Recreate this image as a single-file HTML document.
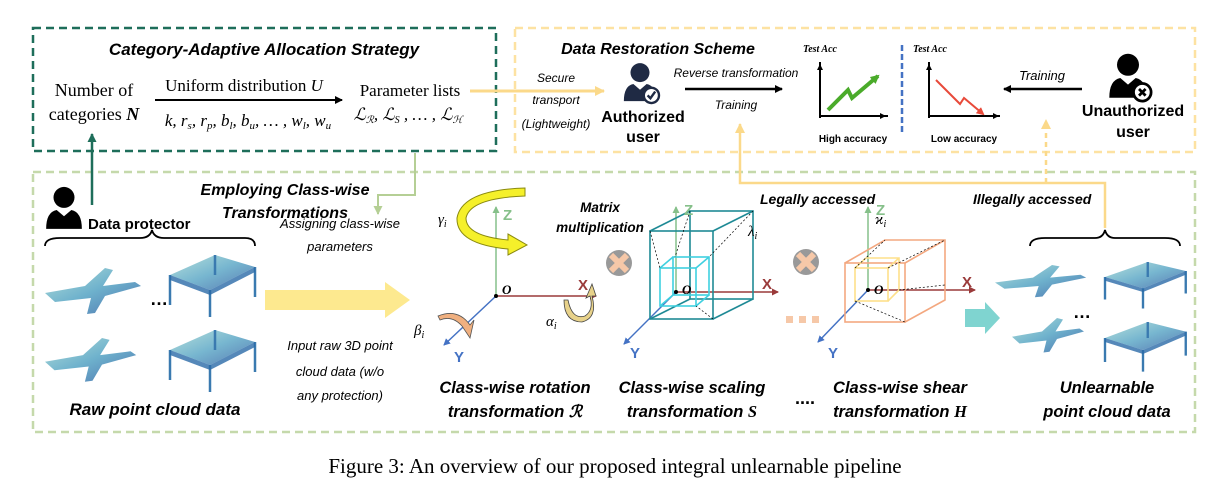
<!DOCTYPE html>
<html><head><meta charset="utf-8"><style>
html,body{margin:0;padding:0;background:#fff;}
svg{display:block;}
text{font-family:"Liberation Sans",sans-serif;}
.bi{font-weight:bold;font-style:italic;}
.it{font-style:italic;}
.serif{font-family:"Liberation Serif",serif;}
</style></head><body>
<svg width="1230" height="492" viewBox="0 0 1230 492" xmlns="http://www.w3.org/2000/svg">
<defs>
<marker id="ak" markerWidth="8" markerHeight="8" refX="7" refY="4" orient="auto" markerUnits="userSpaceOnUse"><path d="M0,0 L8,4 L0,8 z" fill="#000"/></marker>
<marker id="ay" markerWidth="10" markerHeight="10" refX="9" refY="5" orient="auto" markerUnits="userSpaceOnUse"><path d="M0,0 L10,5 L0,10 z" fill="#fbd98a"/></marker>
<marker id="ag" markerWidth="9" markerHeight="9" refX="8" refY="4.5" orient="auto" markerUnits="userSpaceOnUse"><path d="M0,0 L9,4.5 L0,9 z" fill="#1e6e5a"/></marker>
<marker id="alg" markerWidth="9" markerHeight="9" refX="8" refY="4.5" orient="auto" markerUnits="userSpaceOnUse"><path d="M0,0 L9,4.5 L0,9 z" fill="#b5cf95"/></marker>
<marker id="az" markerWidth="7" markerHeight="7" refX="6" refY="3.5" orient="auto" markerUnits="userSpaceOnUse"><path d="M0,0 L7,3.5 L0,7 z" fill="#86c08a"/></marker>
<marker id="ax" markerWidth="7" markerHeight="7" refX="6" refY="3.5" orient="auto" markerUnits="userSpaceOnUse"><path d="M0,0 L7,3.5 L0,7 z" fill="#9a3a3a"/></marker>
<marker id="ayb" markerWidth="7" markerHeight="7" refX="6" refY="3.5" orient="auto" markerUnits="userSpaceOnUse"><path d="M0,0 L7,3.5 L0,7 z" fill="#4472c4"/></marker>
<marker id="agr" markerWidth="9" markerHeight="9" refX="7" refY="4.5" orient="auto" markerUnits="userSpaceOnUse"><path d="M0,0 L9,4.5 L0,9 z" fill="#4aab2a"/></marker>
<marker id="ard" markerWidth="8" markerHeight="8" refX="6" refY="4" orient="auto" markerUnits="userSpaceOnUse"><path d="M0,0 L8,4 L0,8 z" fill="#e84a3a"/></marker>
<linearGradient id="pc" x1="0" y1="0" x2="1" y2="1"><stop offset="0" stop-color="#9fd6cf"/><stop offset="0.5" stop-color="#4a9ec0"/><stop offset="1" stop-color="#1f4f9a"/></linearGradient>
<g id="plane"><path d="M0,25 L40,18 L60,0 L68,2 L58,18 L90,14 L96,18 L60,28 L50,45 L42,46 L46,30 L10,34 Z" fill="url(#pc)" opacity="0.8"/></g>
<g id="table"><path d="M0,20 L45,0 L85,12 L40,35 Z" fill="url(#pc)" opacity="0.75"/><path d="M0,20 L0,50 M40,35 L40,62 M85,12 L85,42 M45,0 L45,20" stroke="#3a7ab0" stroke-width="2.5"/><path d="M0,20 L40,35 L85,12 L85,17 L40,40 L0,25Z" fill="#2a6aa8" opacity="0.8"/></g>
<g id="user"><circle cx="0" cy="-12" r="10" fill="#000"/><path d="M-17,18 Q-17,2 -7,0 L0,6 L7,0 Q17,2 17,18 Z" fill="#000"/></g>
</defs>

<rect x="33" y="28" width="463" height="123" fill="none" stroke="#1e6e5a" stroke-width="2.5" stroke-dasharray="8,5"/>
<rect x="515" y="28" width="680" height="124" fill="none" stroke="#fde2a2" stroke-width="2.5" stroke-dasharray="8,5"/>
<rect x="33" y="172" width="1162" height="260" fill="none" stroke="#c5d9ab" stroke-width="2.5" stroke-dasharray="8,5"/>

<text x="264" y="55" text-anchor="middle" class="bi" font-size="17">Category-Adaptive Allocation Strategy</text>
<text x="94" y="96" text-anchor="middle" class="serif" font-size="18">Number of</text>
<text x="94" y="120" text-anchor="middle" class="serif" font-size="18">categories <tspan font-style="italic" font-weight="bold">N</tspan></text>
<line x1="155" y1="100" x2="342" y2="100" stroke="#000" stroke-width="2" marker-end="url(#ak)"/>
<text x="244" y="91" text-anchor="middle" class="serif" font-size="17">Uniform distribution <tspan font-style="italic">U</tspan></text>
<text x="248" y="126" text-anchor="middle" class="serif it" font-size="17">k, r<tspan font-size="11" dy="3">s</tspan><tspan dy="-3">, r</tspan><tspan font-size="11" dy="3">p</tspan><tspan dy="-3">, b</tspan><tspan font-size="11" dy="3">l</tspan><tspan dy="-3">, b</tspan><tspan font-size="11" dy="3">u</tspan><tspan dy="-3">, … , w</tspan><tspan font-size="11" dy="3">l</tspan><tspan dy="-3">, w</tspan><tspan font-size="11" dy="3">u</tspan></text>
<text x="410" y="96" text-anchor="middle" class="serif" font-size="17">Parameter lists</text>
<text x="408" y="120" text-anchor="middle" class="serif it" font-size="17">ℒ<tspan font-size="10" dy="3">ℛ</tspan><tspan dy="-3">,  ℒ</tspan><tspan font-size="10" dy="3">S</tspan><tspan dy="-3"> , … , ℒ</tspan><tspan font-size="10" dy="3">ℋ</tspan></text>
<line x1="470" y1="91" x2="604" y2="91" stroke="#fbd98a" stroke-width="3" marker-end="url(#ay)"/>

<text x="658" y="54" text-anchor="middle" class="bi" font-size="16">Data Restoration Scheme</text>
<text x="556" y="82" text-anchor="middle" class="it" font-size="12">Secure</text>
<text x="556" y="104" text-anchor="middle" class="it" font-size="12">transport</text>
<text x="556" y="128" text-anchor="middle" class="it" font-size="12">(Lightweight)</text>
<g transform="translate(640,84) scale(0.95)"><circle cx="0" cy="-12" r="10" fill="#1f2a44"/><path d="M-17,18 Q-17,2 -7,0 L0,6 L7,0 Q17,2 17,18 Z" fill="#1f2a44"/><circle cx="12" cy="12" r="8" fill="#fff" stroke="#1f2a44" stroke-width="2.5"/><path d="M8,12 L11,15 L16,8" fill="none" stroke="#1f2a44" stroke-width="2.5"/></g>
<text x="643" y="122" text-anchor="middle" font-weight="bold" font-size="16">Authorized</text>
<text x="643" y="142" text-anchor="middle" font-weight="bold" font-size="16">user</text>
<text x="736" y="77" text-anchor="middle" class="it" font-size="12">Reverse transformation</text>
<line x1="685" y1="89" x2="782" y2="89" stroke="#000" stroke-width="2.5" marker-end="url(#ak)"/>
<text x="736" y="109" text-anchor="middle" class="it" font-size="12">Training</text>
<text x="820" y="52" text-anchor="middle" class="serif bi" font-size="10">Test Acc</text>
<path d="M820,118 L820,62 M820,116 L888,116" stroke="#000" stroke-width="2" fill="none"/>
<path d="M820,64 l-3,6 l6,0z M886,116 l-6,-3 l0,6z" fill="#000"/>
<polyline points="828,110 848,90 852,98 878,76" fill="none" stroke="#4aab2a" stroke-width="4" marker-end="url(#agr)"/>
<text x="853" y="142" text-anchor="middle" font-weight="bold" font-size="10">High accuracy</text>
<line x1="902" y1="45" x2="902" y2="132" stroke="#4472c4" stroke-width="2.5" stroke-dasharray="6,3"/>
<text x="930" y="52" text-anchor="middle" class="serif bi" font-size="10">Test Acc</text>
<path d="M929,118 L929,62 M929,116 L1000,116" stroke="#000" stroke-width="2" fill="none"/>
<path d="M929,64 l-3,6 l6,0z M999,116 l-6,-3 l0,6z" fill="#000"/>
<polyline points="936,80 960,104 964,98 983,114" fill="none" stroke="#e84a3a" stroke-width="2" marker-end="url(#ard)"/>
<text x="964" y="142" text-anchor="middle" font-weight="bold" font-size="10">Low accuracy</text>
<line x1="1082" y1="89" x2="1004" y2="89" stroke="#000" stroke-width="2.5" marker-end="url(#ak)"/>
<text x="1042" y="80" text-anchor="middle" class="it" font-size="13">Training</text>
<g transform="translate(1128,78) scale(1.1)"><use href="#user"/><circle cx="13" cy="13" r="8" fill="#fff" stroke="#000" stroke-width="2.5"/><path d="M10,10 L16,16 M16,10 L10,16" stroke="#000" stroke-width="2.5"/></g>
<text x="1133" y="116" text-anchor="middle" font-weight="bold" font-size="16">Unauthorized</text>
<text x="1133" y="137" text-anchor="middle" font-weight="bold" font-size="16">user</text>

<polyline points="1105,228 1105,183 740,183 740,124" fill="none" stroke="#fbd98a" stroke-width="2.5" marker-end="url(#ay)"/>
<line x1="1046" y1="183" x2="1046" y2="120" stroke="#fbd98a" stroke-width="2.5" stroke-dasharray="5,4" marker-end="url(#ay)"/>
<polyline points="415,153 415,195 378,195 378,214" fill="none" stroke="#b5cf95" stroke-width="2" marker-end="url(#alg)"/>
<line x1="92" y1="205" x2="92" y2="134" stroke="#1e6e5a" stroke-width="2.5" marker-end="url(#ag)"/>

<g transform="translate(64,210) scale(1.05)"><use href="#user"/></g>
<text x="88" y="229" font-weight="bold" font-size="15">Data protector</text>
<text x="285" y="195" text-anchor="middle" class="bi" font-size="16">Employing Class-wise</text>
<text x="285" y="218" text-anchor="middle" class="bi" font-size="16">Transformations</text>
<path d="M45,246 Q45,238 60,238 L140,238 Q150,238 152,230 Q154,238 164,238 L245,238 Q255,238 255,246" fill="none" stroke="#000" stroke-width="1.8"/>
<g transform="translate(45,268)"><use href="#plane"/></g>
<text x="150" y="305" font-size="18" font-weight="bold">…</text>
<g transform="translate(170,255)"><use href="#table"/></g>
<g transform="translate(45,338) scale(0.95)"><use href="#plane"/></g>
<g transform="translate(170,330)"><use href="#table"/></g>
<text x="155" y="415" text-anchor="middle" class="bi" font-size="17">Raw point cloud data</text>
<text x="340" y="228" text-anchor="middle" class="it" font-size="13">Assigning class-wise</text>
<text x="340" y="251" text-anchor="middle" class="it" font-size="13">parameters</text>
<path d="M265,290 L385,290 L385,282 L410,300 L385,318 L385,310 L265,310 Z" fill="#fde98f"/>
<text x="340" y="350" text-anchor="middle" class="it" font-size="13">Input raw 3D point</text>
<text x="340" y="376" text-anchor="middle" class="it" font-size="13">cloud data (w/o</text>
<text x="340" y="400" text-anchor="middle" class="it" font-size="13">any protection)</text>

<line x1="496" y1="296" x2="496" y2="207" stroke="#86c08a" stroke-width="1.5" marker-end="url(#az)"/>
<line x1="496" y1="296" x2="596" y2="296" stroke="#9a3a3a" stroke-width="1.5" marker-end="url(#ax)"/>
<line x1="496" y1="296" x2="444" y2="345" stroke="#4472c4" stroke-width="1.5" marker-end="url(#ayb)"/>
<circle cx="496" cy="296" r="2" fill="#000"/>
<text x="502" y="294" class="serif bi" font-size="13">O</text>
<text x="503" y="220" font-weight="bold" font-size="15" fill="#86c08a">Z</text>
<text x="578" y="290" font-weight="bold" font-size="15" fill="#9a3a3a">X</text>
<text x="454" y="362" font-weight="bold" font-size="15" fill="#4472c4">Y</text>
<text x="438" y="224" class="serif it" font-size="15">γ<tspan font-size="10" dy="3">i</tspan></text>
<text x="414" y="335" class="serif it" font-size="15">β<tspan font-size="10" dy="3">i</tspan></text>
<text x="546" y="326" class="serif it" font-size="15">α<tspan font-size="10" dy="3">i</tspan></text>
<path d="M525,196 Q470,198 466,218 Q466,236 508,240 L508,234 L527,245 L508,255 L508,249 Q456,244 457,218 Q462,190 525,188 Z" fill="#f5f02a" stroke="#8a8a10" stroke-width="1"/>
<path d="M438,316 Q458,308 470,325 L474,320 L470,338 L462,326 Q452,315 440,320 Z" fill="#f0b080" stroke="#555" stroke-width="0.8"/>
<path d="M568,300 Q572,320 585,316 Q594,310 590,296 L586,298 L592,284 L596,296 L592,296 Q598,318 582,322 Q564,322 564,300 Z" fill="#e8d28a" stroke="#444" stroke-width="0.8"/>
<text x="515" y="393" text-anchor="middle" class="bi" font-size="16.5">Class-wise rotation</text>
<text x="515" y="417" text-anchor="middle" class="bi" font-size="16.5">transformation ℛ</text>

<text x="600" y="212" text-anchor="middle" class="bi" font-size="13.5">Matrix</text>
<text x="600" y="232" text-anchor="middle" class="bi" font-size="13.5">multiplication</text>
<circle cx="619" cy="263" r="13" fill="#999"/><path d="M611,255 L627,271 M627,255 L611,271" stroke="#f6c8a8" stroke-width="6"/>
<circle cx="806" cy="262" r="13" fill="#999"/><path d="M798,254 L814,270 M814,254 L798,270" stroke="#f6c8a8" stroke-width="6"/>

<line x1="676" y1="292" x2="676" y2="207" stroke="#86c08a" stroke-width="1.5" marker-end="url(#az)"/>
<line x1="676" y1="292" x2="778" y2="292" stroke="#9a3a3a" stroke-width="1.5" marker-end="url(#ax)"/>
<line x1="676" y1="292" x2="624" y2="344" stroke="#4472c4" stroke-width="1.5" marker-end="url(#ayb)"/>
<g fill="none" stroke="#1f8a95" stroke-width="1.6">
<rect x="650" y="231" width="63" height="88"/><rect x="690" y="211" width="63" height="88"/>
<path d="M650,231 L690,211 M713,231 L753,211 M713,319 L753,299 M650,319 L690,299"/></g>
<g fill="none" stroke="#3fd0e0" stroke-width="1.6">
<rect x="660" y="268" width="36" height="38"/><rect x="673" y="257" width="36" height="38"/>
<path d="M660,268 L673,257 M696,268 L709,257 M696,306 L709,295 M660,306 L673,295"/></g>
<path d="M650,231 L660,268 M753,211 L709,257 M713,319 L696,306 M690,211 L675,257" stroke="#000" stroke-width="0.7" stroke-dasharray="2,2" fill="none"/>
<circle cx="676" cy="292" r="2" fill="#000"/>
<text x="682" y="294" class="serif bi" font-size="13">O</text>
<text x="684" y="215" font-weight="bold" font-size="15" fill="#86c08a">Z</text>
<text x="762" y="289" font-weight="bold" font-size="15" fill="#9a3a3a">X</text>
<text x="630" y="358" font-weight="bold" font-size="15" fill="#4472c4">Y</text>
<text x="748" y="236" class="serif it" font-size="15">λ<tspan font-size="10" dy="3">i</tspan></text>
<text x="692" y="393" text-anchor="middle" class="bi" font-size="16.5">Class-wise scaling</text>
<text x="692" y="417" text-anchor="middle" class="bi" font-size="16.5">transformation <tspan class="serif">S</tspan></text>
<rect x="786" y="316" width="7" height="7" fill="#f6c8a8"/><rect x="799" y="316" width="7" height="7" fill="#f6c8a8"/><rect x="812" y="316" width="7" height="7" fill="#f6c8a8"/>
<text x="805" y="404" text-anchor="middle" font-weight="bold" font-size="18">....</text>
<text x="760" y="204" class="bi" font-size="14">Legally accessed</text>
<text x="973" y="204" class="bi" font-size="14">Illegally  accessed</text>

<line x1="868" y1="290" x2="868" y2="207" stroke="#86c08a" stroke-width="1.5" marker-end="url(#az)"/>
<line x1="868" y1="290" x2="975" y2="290" stroke="#9a3a3a" stroke-width="1.5" marker-end="url(#ax)"/>
<line x1="868" y1="290" x2="818" y2="342" stroke="#4472c4" stroke-width="1.5" marker-end="url(#ayb)"/>
<g fill="none" stroke="#f3a880" stroke-width="1.6">
<rect x="845" y="263" width="60" height="59"/>
<path d="M845,263 L885,240 L945,240 L945,300 L905,322 M905,263 L945,240"/></g>
<g fill="none" stroke="#fde08a" stroke-width="1.6"><rect x="855" y="268" width="33" height="33"/><path d="M855,268 L866,258 L899,258 L899,290 L888,301 M888,268 L899,258"/></g>
<path d="M888,268 L945,240 M899,290 L945,285 M855,301 L905,322 M855,268 L885,240" stroke="#000" stroke-width="0.7" stroke-dasharray="2,2" fill="none"/>
<circle cx="868" cy="290" r="2" fill="#000"/>
<text x="874" y="294" class="serif bi" font-size="13">O</text>
<text x="876" y="215" font-weight="bold" font-size="15" fill="#86c08a">Z</text>
<text x="962" y="287" font-weight="bold" font-size="15" fill="#9a3a3a">X</text>
<text x="828" y="358" font-weight="bold" font-size="15" fill="#4472c4">Y</text>
<text x="875" y="224" class="serif it" font-size="15">ϰ<tspan font-size="10" dy="3">i</tspan></text>
<text x="900" y="393" text-anchor="middle" class="bi" font-size="16.5">Class-wise shear</text>
<text x="900" y="417" text-anchor="middle" class="bi" font-size="16.5">transformation <tspan class="serif">H</tspan></text>
<path d="M965,309 L985,309 L985,302 L1000,318 L985,334 L985,327 L965,327 Z" fill="#7fd4d0"/>

<path d="M1030,246 Q1030,238 1045,238 L1095,238 Q1103,238 1105,230 Q1107,238 1115,238 L1165,238 Q1180,238 1180,246" fill="none" stroke="#000" stroke-width="1.8"/>
<g transform="translate(995,265) scale(0.95,0.7)"><use href="#plane"/></g>
<g transform="translate(1105,262) scale(0.95,0.75)"><use href="#table"/></g>
<text x="1073" y="318" font-size="18" font-weight="bold">…</text>
<g transform="translate(1012,318) scale(0.75)"><use href="#plane"/></g>
<g transform="translate(1105,322) scale(0.95,0.8)"><use href="#table"/></g>
<text x="1107" y="393" text-anchor="middle" class="bi" font-size="16.5">Unlearnable</text>
<text x="1107" y="417" text-anchor="middle" class="bi" font-size="16.5">point cloud data</text>

<text x="615" y="473" text-anchor="middle" class="serif" font-size="21">Figure 3: An overview of our proposed integral unlearnable pipeline</text>
</svg>
</body></html>
